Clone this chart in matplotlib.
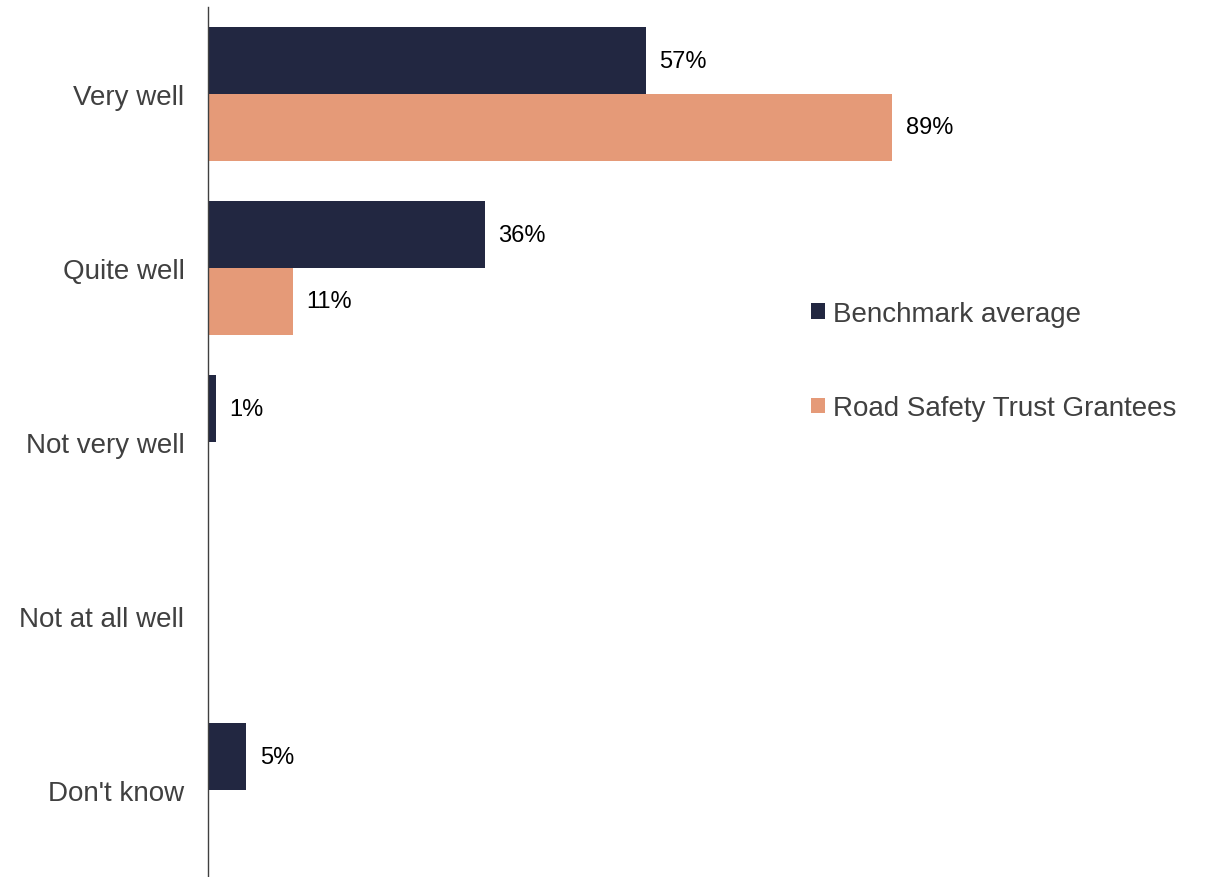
import matplotlib.pyplot as plt
import numpy as np

plt.rcParams['font.family'] = ['Liberation Sans', 'DejaVu Sans']

categories = ["Very well", "Quite well", "Not very well", "Not at all well", "Don't know"]
benchmark = [57, 36, 1, 0, 5]
grantees = [89, 11, 0, 0, 0]
series_names = ["Benchmark average", "Road Safety Trust Grantees"]

dark = "#222741"
orange = "#E59A78"

fig = plt.figure(figsize=(12.05, 8.78), dpi=100)
ax = fig.add_axes([208 / 1205, 0, 769 / 1205, 870 / 878])

y = np.arange(len(categories))
h = 0.384
b1 = ax.barh(y - h / 2, benchmark, height=h, color=dark, label=series_names[0])
b2 = ax.barh(y + h / 2, grantees, height=h, color=orange, label=series_names[1])

for bars, vals in ((b1, benchmark), (b2, grantees)):
    for bar, v in zip(bars, vals):
        if v > 0:
            ax.annotate("%d%%" % v, (v, bar.get_y() + bar.get_height() / 2),
                        xytext=(9.5, 0), textcoords="offset points",
                        va="center", ha="left", fontsize=17, color="black")

ax.set_xlim(0, 100)
ax.set_ylim(len(categories) - 0.5, -0.5)
ax.set_yticks(y)
ax.set_yticklabels(categories, fontsize=20, color="#404040")
ax.tick_params(axis="y", length=0, pad=17)
ax.set_xticks([])
for s in ("top", "right", "bottom"):
    ax.spines[s].set_visible(False)
ax.spines["left"].set_color("#404040")
ax.spines["left"].set_linewidth(1)

fig.legend(loc="upper left", bbox_to_anchor=(800 / 1205, 1 - 291 / 878),
           frameon=False, fontsize=20, labelcolor="#404040",
           handlelength=0.5, handleheight=0.5, handletextpad=0.3,
           labelspacing=2.46, borderaxespad=0)

fig.savefig("out.png", dpi=100)
